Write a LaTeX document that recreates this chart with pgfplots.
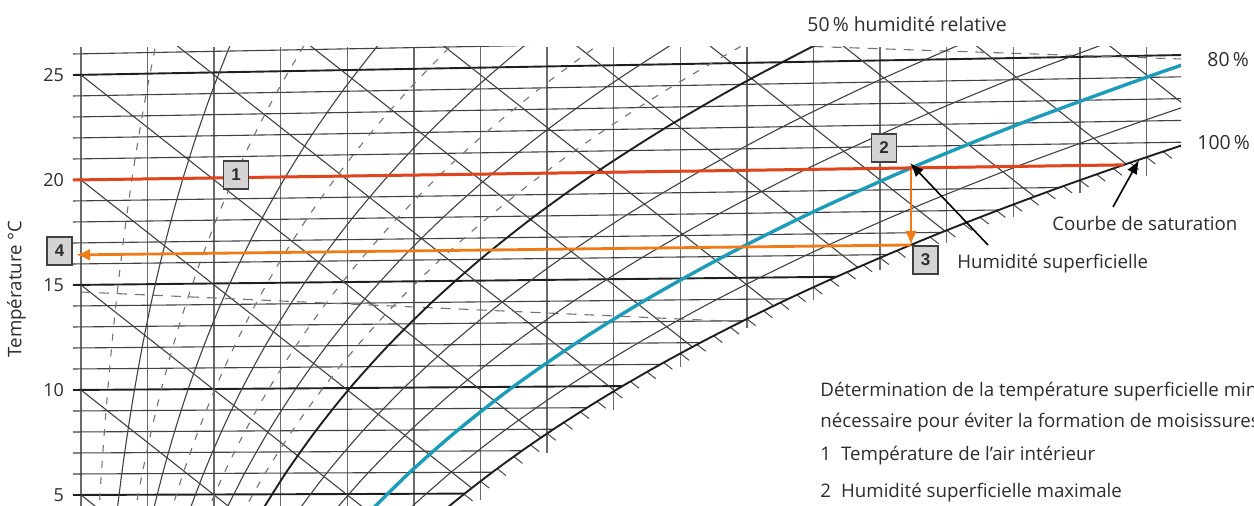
\documentclass[border=0pt]{standalone}
\usepackage{pgfplots}
\pgfplotsset{compat=1.18}
\usepackage{fontspec}
\setmainfont{Open Sans}
\newfontfamily\boxfont{Liberation Sans}
\usetikzlibrary{arrows.meta}

\definecolor{rouge}{RGB}{226,68,28}
\definecolor{orangeh}{RGB}{240,122,22}
\definecolor{bleu}{RGB}{26,156,186}
\definecolor{grille}{RGB}{65,65,65}
\definecolor{boite}{RGB}{212,212,212}
\definecolor{texte}{RGB}{45,45,45}

\newcommand\txt{\fontsize{9.35}{11}\selectfont}

\tikzset{
  fin/.style={draw=grille, line width=0.55pt},
  gras/.style={draw=black!88, line width=0.95pt},
  vert/.style={draw=black!58, line width=0.7pt},
  tiret/.style={draw=black!55, line width=0.55pt, dash pattern=on 3.5pt off 4.5pt},
  boiteno/.style={draw=black!75, line width=0.6pt, fill=boite, minimum width=12.5pt,
    minimum height=14pt, inner sep=0pt, font=\boxfont\bfseries\fontsize{8.5}{9}\selectfont},
}

\begin{document}
\begin{tikzpicture}
\path[use as bounding box] (0,0) rectangle (627pt,-253pt);
\begin{axis}[
  at={(35.5pt,-253pt)}, anchor=south west,
  width=555pt, height=229.5pt, scale only axis,
  xmin=-0.150, xmax=16.517, ymin=4.476, ymax=26.333,
  axis line style={draw=none}, xtick=\empty,
  ytick={5,10,15,20,25}, major tick length=0pt,
  yticklabel style={font=\fontsize{9}{10}\selectfont, text=texte},
  /pgf/number format/assume math mode=true,
  clip=true,
]
% teneur en eau (verticales)
\addplot[vert] coordinates {(0,4.476) (0,26.333)};
\addplot[vert] coordinates {(1,4.476) (1,26.333)};
\addplot[vert] coordinates {(2,4.476) (2,26.333)};
\addplot[vert] coordinates {(3,4.476) (3,26.333)};
\addplot[vert] coordinates {(4,4.476) (4,26.333)};
\addplot[vert] coordinates {(5,4.476) (5,26.333)};
\addplot[vert] coordinates {(6,4.76) (6,26.333)};
\addplot[vert] coordinates {(7,7.0) (7,26.333)};
\addplot[vert] coordinates {(8,9.05) (8,26.333)};
\addplot[vert] coordinates {(9,11.1) (9,26.333)};
\addplot[vert] coordinates {(10,12.95) (10,26.333)};
\addplot[vert] coordinates {(11,14.29) (11,26.333)};
\addplot[vert] coordinates {(12,15.69) (12,26.333)};
\addplot[vert] coordinates {(13,17.0) (13,26.333)};
\addplot[vert] coordinates {(14,18.23) (14,26.333)};
\addplot[vert] coordinates {(15,19.38) (15,26.333)};
\addplot[vert] coordinates {(16,20.19) (16,26.333)};

% isothermes
\addplot[gras] coordinates {(-0.12,5) (5.761,5.066)};
\addplot[fin] coordinates {(-0.12,6) (6.178,6.085)};
\addplot[fin] coordinates {(-0.12,7) (6.622,7.107)};
\addplot[fin] coordinates {(-0.12,8) (7.095,8.131)};
\addplot[fin] coordinates {(-0.12,9) (7.598,9.157)};
\addplot[gras] coordinates {(-0.12,10) (8.131,10.187)};
\addplot[fin] coordinates {(-0.12,11) (8.700,11.220)};
\addplot[fin] coordinates {(-0.12,12) (9.303,12.257)};
\addplot[fin] coordinates {(-0.12,13) (9.944,13.297)};
\addplot[fin] coordinates {(-0.12,14) (10.623,14.342)};
\addplot[gras] coordinates {(-0.12,15) (11.345,15.391)};
\addplot[fin] coordinates {(-0.12,16) (12.110,16.446)};
\addplot[fin] coordinates {(-0.12,17) (12.921,17.505)};
\addplot[fin] coordinates {(-0.12,18) (13.780,18.570)};
\addplot[fin] coordinates {(-0.12,19) (14.692,19.642)};
\addplot[gras] coordinates {(-0.12,20) (15.657,20.720)};
\addplot[fin] coordinates {(-0.12,21) (16.52,21.798)};
\addplot[fin] coordinates {(-0.12,22) (16.52,22.836)};
\addplot[fin] coordinates {(-0.12,23) (16.52,23.874)};
\addplot[fin] coordinates {(-0.12,24) (16.52,24.912)};
\addplot[gras] coordinates {(-0.12,25) (16.52,25.950)};
\addplot[fin] coordinates {(-0.12,26) (16.52,26.988)};

% enthalpie
\addplot[fin] coordinates {(0,5) (0.3,4.25)};
\addplot[fin] coordinates {(0,10) (2.3,4.25)};
\addplot[fin] coordinates {(0,15) (4.3,4.25)};
\addplot[fin] coordinates {(0,20) (5.868,5.33)};
\addplot[fin] coordinates {(0,25) (6.909,7.73)};
\addplot[fin] coordinates {(0,30) (8.016,9.96)};
\addplot[fin] coordinates {(0,35) (9.182,12.045)};
\addplot[fin] coordinates {(0,40) (10.40,14.0)};
\addplot[fin] coordinates {(0,45) (11.667,15.83)};
\addplot[fin] coordinates {(0,50) (12.972,17.57)};
\addplot[fin] coordinates {(0,55) (14.319,19.20)};
\addplot[fin] coordinates {(0,60) (15.696,20.76)};
\addplot[fin] coordinates {(0,65) (16.6,23.5)};

% masse volumique
\addplot[tiret, dash pattern=on 5pt off 4pt] coordinates {(0,14.667) (9.92,13.25)};
\addplot[tiret, dash pattern=on 5pt off 4pt] coordinates {(11.0,26.356) (16.52,25.762)};

% humidite relative 5 % ... 45 %
\addplot[tiret, smooth] coordinates {(0.266,4.002) (0.306,6.004) (0.351,8.006) (0.402,10.009) (0.459,12.013) (0.523,14.017) (0.595,16.022) (0.675,18.028) (0.765,20.035) (0.865,22.044) (0.976,24.054) (1.100,26.066) (1.167,27.072)};
\addplot[fin, smooth] coordinates {(0.533,4.005) (0.612,6.008) (0.702,8.013) (0.804,10.018) (0.918,12.025) (1.046,14.034) (1.190,16.044) (1.351,18.056) (1.531,20.070) (1.732,22.088) (1.955,24.108) (2.203,26.132) (2.338,27.145)};
\addplot[tiret, smooth] coordinates {(0.799,4.007) (0.919,6.013) (1.054,8.019) (1.206,10.028) (1.378,12.038) (1.571,14.051) (1.787,16.066) (2.029,18.084) (2.299,20.106) (2.601,22.132) (2.937,24.162) (3.311,26.198) (3.513,27.218)};
\addplot[fin, smooth] coordinates {(1.066,4.010) (1.226,6.017) (1.406,8.026) (1.609,10.037) (1.839,12.051) (2.096,14.067) (2.385,16.088) (2.708,18.112) (3.070,20.141) (3.473,22.176) (3.922,24.217) (4.422,26.264) (4.693,27.291)};
\addplot[tiret, smooth] coordinates {(1.334,4.012) (1.533,6.021) (1.759,8.032) (2.013,10.046) (2.300,12.063) (2.622,14.084) (2.984,16.110) (3.389,18.140) (3.842,20.177) (4.347,22.220) (4.911,24.271) (5.538,26.331) (5.877,27.365)};
\addplot[fin, smooth] coordinates {(1.601,4.015) (1.841,6.025) (2.112,8.039) (2.417,10.056) (2.762,12.076) (3.149,14.101) (3.584,16.132) (4.071,18.169) (4.616,20.212) (5.224,22.264) (5.902,24.326) (6.658,26.398) (7.066,27.439)};
\addplot[tiret, smooth] coordinates {(1.869,4.017) (2.149,6.030) (2.465,8.045) (2.822,10.065) (3.225,12.089) (3.677,14.118) (4.185,16.154) (4.755,18.197) (5.392,20.248) (6.103,22.309) (6.897,24.381) (7.781,26.465) (8.259,27.513)};
\addplot[fin, smooth] coordinates {(2.136,4.020) (2.457,6.034) (2.819,8.052) (3.227,10.074) (3.688,12.102) (4.206,14.135) (4.788,16.176) (5.440,18.225) (6.170,20.284) (6.985,22.353) (7.895,24.436) (8.909,26.533) (9.457,27.587)};
\addplot[tiret, smooth] coordinates {(2.404,4.022) (2.765,6.038) (3.173,8.058) (3.633,10.084) (4.152,12.115) (4.736,14.153) (5.392,16.198) (6.127,18.254) (6.950,20.320) (7.869,22.398) (8.896,24.491) (10.040,26.600) (10.660,27.662)};
% 50 %
\addplot[gras, smooth] coordinates {(2.673,4.025) (3.074,6.042) (3.528,8.065) (4.039,10.093) (4.617,12.127) (5.267,14.170) (5.996,16.221) (6.815,18.282) (7.731,20.356) (8.756,22.443) (9.900,24.546) (11.176,26.668) (11.867,27.737)};
% 60, 70, 90 %
\addplot[fin, smooth] coordinates {(3.210,4.030) (3.692,6.051) (4.238,8.078) (4.854,10.112) (5.549,12.153) (6.331,14.204) (7.210,16.265) (8.196,18.339) (9.301,20.428) (10.536,22.533) (11.918,24.658) (13.459,26.805) (14.295,27.888)};
\addplot[fin, smooth] coordinates {(3.748,4.034) (4.312,6.060) (4.950,8.091) (5.670,10.130) (6.483,12.179) (7.399,14.238) (8.428,16.310) (9.583,18.397) (10.878,20.500) (12.327,22.624) (13.949,24.770) (15.759,26.942)};
\addplot[fin, smooth] coordinates {(4.827,4.044) (5.555,6.077) (6.379,8.117) (7.309,10.168) (8.361,12.231) (9.545,14.307) (10.877,16.400) (12.375,18.512) (14.056,20.647) (15.940,22.807) (16.966,23.897)};

% hachures sous la courbe de saturation
\addplot[draw=black!72, line width=0.5pt, quiver={u=0.13, v=-0.32}] coordinates {
 (5.5,4.391) (5.75,5.038) (6.0,5.650) (6.25,6.251) (6.5,6.826) (6.75,7.384) (7.0,7.925)
 (7.25,8.447) (7.5,8.957) (7.75,9.451) (8.0,9.934) (8.25,10.403) (8.5,10.857) (8.75,11.306)
 (9.0,11.736) (9.25,12.166) (9.5,12.577) (9.75,12.982) (10.0,13.383) (10.25,13.768)
 (10.5,14.153) (10.75,14.527) (11.0,14.890) (11.25,15.253) (11.5,15.605) (11.75,15.949)
 (12.0,16.294) (12.25,16.629) (12.5,16.955) (12.75,17.282) (13.0,17.603) (13.25,17.913)
 (13.5,18.223) (13.75,18.533) (14.0,18.829) (14.25,19.122) (14.5,19.416) (14.75,19.707)
 (15.0,19.986) (15.25,20.265) (15.5,20.545) (15.75,20.819) (16.0,21.085) (16.25,21.350)
 (16.5,21.616)};

% courbe de saturation (100 %)
\addplot[gras, smooth] coordinates {(5.001,3.035) (5.368,4.049) (5.761,5.066) (6.178,6.085) (6.622,7.107) (7.095,8.131) (7.598,9.157) (8.131,10.187) (8.700,11.220) (9.303,12.257) (9.944,13.297) (10.623,14.342) (11.345,15.391) (12.110,16.446) (12.921,17.505) (13.780,18.570) (14.692,19.642) (15.657,20.720) (16.679,21.806)};

% 80 % (bleu)
\addplot[bleu, line width=1.7pt, smooth] coordinates {(4.287,4.039) (4.933,6.068) (5.664,8.104) (6.488,10.149) (7.421,12.205) (8.470,14.273) (9.650,16.355) (10.976,18.454) (12.463,20.573) (14.128,22.715) (15.993,24.883) (17.005,25.978)};

% construction
\addplot[orangeh, line width=1.4pt, -{Latex[length=7pt,width=6pt]}] coordinates {(12.463,20.573) (12.463,16.906)};
\addplot[orangeh, line width=1.4pt, -{Latex[length=7pt,width=6pt]}] coordinates {(12.463,16.906) (-0.075,16.432)};
\addplot[rouge, line width=1.5pt] coordinates {(-0.12,20) (15.657,20.72)};
\end{axis}

\begin{scope}[x=0.5pt, y=-0.5pt, every node/.style={text=texte, inner sep=0pt}]
\node[rotate=90, font=\txt] at (16.5,289) {Température °C};
\node[anchor=base west, font=\fontsize{9.7}{11.5}\selectfont] at (807,32) {50\,\% humidité relative};
\node[anchor=base west, font=\fontsize{9.7}{11.5}\selectfont] at (1207,67) {80\,\%};
\node[anchor=base west, font=\fontsize{9.7}{11.5}\selectfont] at (1197,150) {100\,\%};
\node[anchor=base west, font=\txt] at (1052,231) {Courbe de saturation};
\node[anchor=base west, font=\txt] at (957,269) {Humidité superficielle};
\node[anchor=base west, font=\txt] at (820,397) {Détermination de la température superficielle minimale};
\node[anchor=base west, font=\txt] at (820,428) {nécessaire pour éviter la formation de moisissures};
\node[anchor=base west, font=\txt] at (820,461) {1\hspace{5pt}Température de l’air intérieur};
\node[anchor=base west, font=\txt] at (820,498) {2\hspace{5pt}Humidité superficielle maximale};

\draw[black, line width=0.8pt, -{Latex[length=7pt,width=5.5pt]}] (988,245) -- (910,163);
\draw[black, line width=0.8pt, -{Latex[length=7pt,width=5.5pt]}] (1113,207) -- (1139,160);

\node[boiteno] at (236,175) {1};
\node[boiteno] at (884,148) {2};
\node[boiteno] at (925.5,260) {3};
\node[boiteno] at (59.5,251) {4};
\end{scope}
\end{tikzpicture}
\end{document}
